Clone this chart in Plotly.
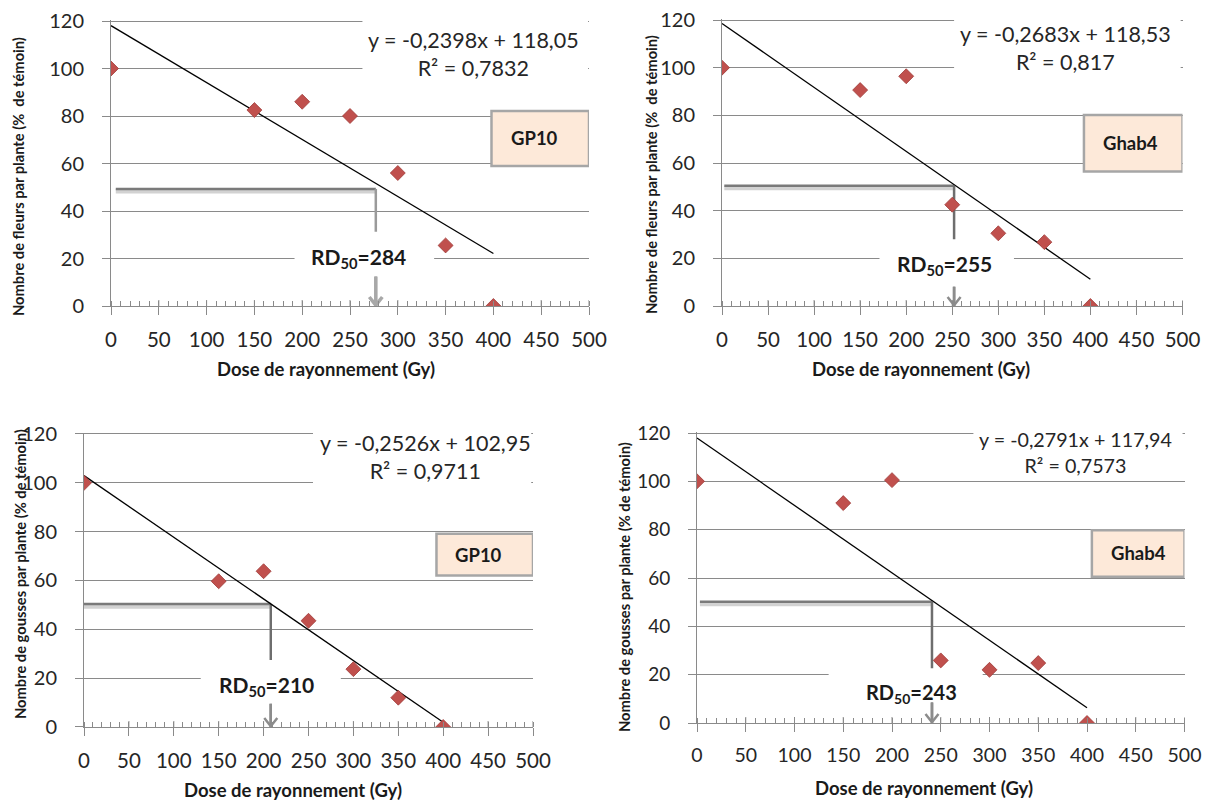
import plotly.graph_objects as go

# ---------------- data ----------------
doses = [0, 150, 200, 250, 300, 350, 400]
fleurs_gp10 = [100, 82.5, 86, 80, 56, 25.5, 0]
fleurs_ghab4 = [100, 90.6, 96.4, 42.5, 30.5, 26.8, 0]
gousses_gp10 = [100, 59.7, 63.8, 43.5, 23.7, 12, 0]
gousses_ghab4 = [100, 91, 100.5, 25.9, 22, 24.8, 0]
series = [fleurs_gp10, fleurs_ghab4, gousses_gp10, gousses_ghab4]

slopes = [-0.2398, -0.2683, -0.2526, -0.2791]
intercepts = [118.05, 118.53, 102.95, 117.94]
eq_labels = ["y = -0,2398x + 118,05", "y = -0,2683x + 118,53",
             "y = -0,2526x + 102,95", "y = -0,2791x + 117,94"]
r2_labels = ["0,7832", "0,817", "0,9711", "0,7573"]
rd50 = [284, 255, 210, 243]
genotypes = ["GP10", "Ghab4", "GP10", "Ghab4"]
trend_x = [0, 400]

y_titles = ["Nombre de fleurs par plante (%  de témoin)",
            "Nombre de fleurs par plante (%  de témoin)",
            "Nombre de gousses par plante (% de témoin)",
            "Nombre de gousses par plante (% de témoin)"]
x_title = "Dose de rayonnement (Gy)"
x_ticks = [0, 50, 100, 150, 200, 250, 300, 350, 400, 450, 500]
y_ticks = [0, 20, 40, 60, 80, 100, 120]

# ---------------- layout geometry ----------------
W, H = 1213, 801
OFF = 8            # page body margin of the html output
FONT = "Lato"
GRID = "#8a8a8a"
RED = "#C0504D"
X_RANGE = (0, 500)
Y_MAX_TICK = 120
Y_PAD = 0.6        # small headroom so the top gridline is kept


def px_x(p):
    return (p - OFF) / W


def px_y(p):
    return 1 - (p - OFF) / H


# plot frames in screen pixels: (left, right, y=120 line, y=0 line)
frames = [(111, 589, 21, 306), (722, 1182.5, 20, 306),
          (84, 533, 434, 727), (697, 1184.5, 433, 723)]
# axis titles (screen pixels)
xt_pos = [(326, 369), (921, 369), (293, 790), (924, 788)]
yt_pos = [(18, 177), (651, 175), (20, 574), (624, 587)]
# font sizes per panel: (ticks, equation, RD label)
fsz = [(20.5, 21.5, 21), (20.5, 21.5, 21), (20.5, 21.5, 21), (19.5, 19.7, 20)]

# per-panel decoration layout (data units)
deco = [
    dict(eq=(379, 106.2), eqmask=(263, 499, 90, 121), box=(398, 500, 59, 82.1),
         boxtxt=(443, 70.6), rdmask=(192, 338, 12.4, 31.3), rdtxt=(259, 20.1),
         hline=(5, 277, 49.3), vcol="#9a9a9a", arrow_top=12.4, arrow_w=3.5,
         arrow_c="#a8a8a8"),
    dict(eq=(373, 108.3), eqmask=(252, 498, 90, 121), box=(393, 500, 56.4, 80.1),
         boxtxt=(443.5, 68.3), rdmask=(171, 317, 8.1, 28), rdtxt=(241.5, 17.2),
         hline=(2.5, 252, 50.5), vcol="#6e6e6e", arrow_top=8.1, arrow_w=2.5,
         arrow_c="#8c8c8c"),
    dict(eq=(380, 110.5), eqmask=(255, 498, 88, 121), box=(392.5, 500, 62, 79.1),
         boxtxt=(439, 70.5), rdmask=(130, 286, 9.5, 27.4), rdtxt=(203, 16.9),
         hline=(0, 208, 50.4), vcol="#6e6e6e", arrow_top=9.5, arrow_w=2.5,
         arrow_c="#8c8c8c"),
    dict(eq=(388, 112.0), eqmask=(283.5, 498, 110, 121), box=(405, 500, 60.5, 79.8),
         boxtxt=(453, 70.2), rdmask=(135, 293, 8.5, 22.7), rdtxt=(220.5, 12.4),
         hline=(3, 241, 50.2), vcol="#6e6e6e", arrow_top=8.5, arrow_w=2.5,
         arrow_c="#8c8c8c"),
]

fig = go.Figure()
shapes = []
annotations = []

for i in range(4):
    n = i + 1
    xs = "x" if n == 1 else f"x{n}"
    ys = "y" if n == 1 else f"y{n}"
    xa = "xaxis" if n == 1 else f"xaxis{n}"
    ya = "yaxis" if n == 1 else f"yaxis{n}"
    l, r, t, b = frames[i]
    tick_fs, eq_fs, rd_fs = fsz[i]
    # pixel -> data unit factors
    ux = (X_RANGE[1] - X_RANGE[0]) / (r - l)
    uy = Y_MAX_TICK / (b - t)
    t_dom = t - Y_PAD / uy

    # trend line
    fig.add_trace(go.Scatter(
        x=trend_x, y=[slopes[i] * v + intercepts[i] for v in trend_x],
        mode="lines", line=dict(color="black", width=1.3),
        xaxis=xs, yaxis=ys, hoverinfo="skip"))
    # data points
    fig.add_trace(go.Scatter(
        x=doses, y=series[i], mode="markers",
        marker=dict(symbol="diamond", size=11.5, color=RED,
                    line=dict(color="#9E3B38", width=0.8)),
        xaxis=xs, yaxis=ys))

    fig.layout[xa] = dict(
        domain=[px_x(l), px_x(r)], anchor=ys, range=list(X_RANGE),
        automargin=False, ticklabeloverflow="allow",
        tickvals=x_ticks, ticktext=[str(v) for v in x_ticks],
        ticks="outside", ticklen=8, tickwidth=1, tickcolor=GRID,
        showline=True, linecolor=GRID, linewidth=1, showgrid=False,
        zeroline=False, ticklabelstandoff=7,
        minor=dict(ticks="inside", ticklen=5, dtick=10, tickcolor=GRID,
                   tickwidth=1, showgrid=False),
        tickfont=dict(family=FONT, size=tick_fs, color="#262626"),
        fixedrange=True)
    fig.layout[ya] = dict(
        domain=[px_y(b), px_y(t_dom)], anchor=xs, range=[0, Y_MAX_TICK + Y_PAD],
        automargin=False, ticklabeloverflow="allow",
        tickvals=y_ticks, ticktext=[str(v) for v in y_ticks],
        ticks="outside", ticklen=8, tickwidth=1,
        tickcolor=GRID, showline=True, linecolor=GRID, linewidth=1,
        showgrid=True, gridcolor=GRID, gridwidth=1, zeroline=False,
        ticklabelstandoff=14,
        tickfont=dict(family=FONT, size=tick_fs - 0.5, color="#262626"),
        fixedrange=True)

    # inner half of the "cross" major ticks on the x axis
    for v in x_ticks[1:]:
        shapes.append(dict(type="line", xref=xs, yref=ys, x0=v, x1=v,
                           y0=0, y1=6 * uy, layer="between",
                           line=dict(color=GRID, width=1)))

    d = deco[i]
    x0h, x1h, yh = d["hline"]
    # RD50 guide lines (shadow + line)
    shapes.append(dict(type="line", xref=xs, yref=ys, x0=x0h, x1=x1h,
                       y0=yh - 1.0, y1=yh - 1.0, layer="between",
                       line=dict(color="#d2d2d2", width=4.5)))
    shapes.append(dict(type="line", xref=xs, yref=ys, x0=x0h, x1=x1h,
                       y0=yh, y1=yh, layer="between",
                       line=dict(color="#7a7a7a", width=2.5)))
    shapes.append(dict(type="line", xref=xs, yref=ys, x0=x1h, x1=x1h,
                       y0=yh, y1=0, layer="between",
                       line=dict(color=d["vcol"], width=2.5)))
    # white masks behind texts (hide gridlines only)
    mx0, mx1, my0, my1 = d["eqmask"]
    shapes.append(dict(type="rect", xref=xs, yref=ys, x0=mx0, x1=mx1,
                       y0=my0, y1=min(my1, Y_MAX_TICK + Y_PAD), layer="between",
                       fillcolor="white", line=dict(width=0)))
    mx0, mx1, my0, my1 = d["rdmask"]
    shapes.append(dict(type="rect", xref=xs, yref=ys, x0=mx0, x1=mx1,
                       y0=my0, y1=my1, layer="between",
                       fillcolor="white", line=dict(width=0)))
    # arrow (shaft + open chevron head)
    shapes.append(dict(type="line", xref=xs, yref=ys, x0=x1h, x1=x1h,
                       y0=d["arrow_top"], y1=0.6 * uy, layer="between",
                       line=dict(color=d["arrow_c"], width=d["arrow_w"])))
    hw, hh = 6.5 * ux, 9 * uy
    shapes.append(dict(
        type="path", xref=xs, yref=ys, layer="between",
        path=(f"M {x1h - hw},{hh} L {x1h},{0.8 * uy} L {x1h + hw},{hh}"),
        line=dict(color=d["arrow_c"], width=d["arrow_w"])))
    # genotype box
    bx0, bx1, by0, by1 = d["box"]
    shapes.append(dict(type="rect", xref=xs, yref=ys, x0=bx0, x1=bx1,
                       y0=by0, y1=by1, layer="between",
                       fillcolor="#FDE9D9", line=dict(color="#A6A6A6", width=2.5)))

    # texts
    annotations.append(dict(
        xref=xs, yref=ys, x=d["eq"][0], y=d["eq"][1], showarrow=False,
        text=f"{eq_labels[i]}<br>R² = {r2_labels[i]}",
        font=dict(family=FONT, size=eq_fs, color="#262626"),
        xanchor="center", yanchor="middle", align="center"))
    annotations.append(dict(
        xref=xs, yref=ys, x=d["boxtxt"][0], y=d["boxtxt"][1], showarrow=False,
        text=f"<b>{genotypes[i]}</b>",
        font=dict(family=FONT, size=18.5, color="#1a1a1a"),
        xanchor="center", yanchor="middle"))
    annotations.append(dict(
        xref=xs, yref=ys, x=d["rdtxt"][0], y=d["rdtxt"][1], showarrow=False,
        text=f"<b>RD<sub>50</sub>={rd50[i]}</b>",
        font=dict(family=FONT, size=rd_fs, color="#1a1a1a"),
        xanchor="center", yanchor="middle"))

    # axis titles
    annotations.append(dict(
        xref="paper", yref="paper", x=px_x(xt_pos[i][0]), y=px_y(xt_pos[i][1]),
        text=f"<b>{x_title}</b>", showarrow=False,
        font=dict(family=FONT, size=18.5, color="#1a1a1a"),
        xanchor="center", yanchor="middle"))
    annotations.append(dict(
        xref="paper", yref="paper", x=px_x(yt_pos[i][0]), y=px_y(yt_pos[i][1]),
        text=f"<b>{y_titles[i]}</b>", showarrow=False, textangle=-90,
        font=dict(family=FONT, size=14.7, color="#1a1a1a"),
        xanchor="center", yanchor="middle"))

fig.update_layout(
    width=W, height=H, margin=dict(l=0, r=0, t=0, b=0, autoexpand=False),
    paper_bgcolor="white", plot_bgcolor="white", showlegend=False,
    shapes=shapes, annotations=annotations)

fig.write_html("out.html")
